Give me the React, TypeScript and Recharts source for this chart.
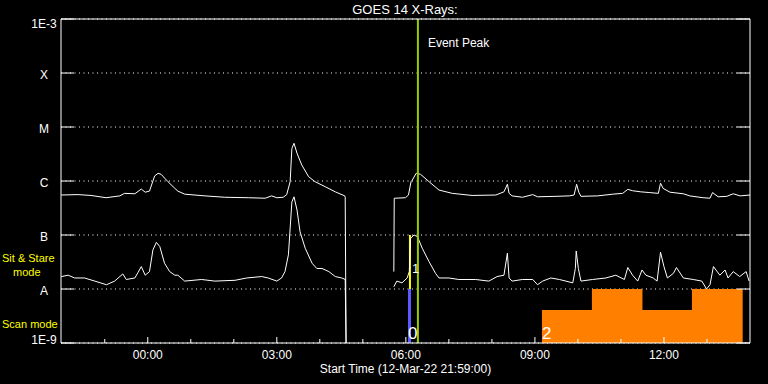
import {
  ComposedChart,
  Line,
  Area,
  XAxis,
  YAxis,
  CartesianGrid,
  ReferenceLine,
  ReferenceArea,
  ReferenceDot,
} from 'recharts';

const FONT = '"Liberation Sans", Arial, sans-serif';

// hours from 00:00 UT, start 12-Mar-22 21:59:00
const longTimes = [
  -2.01, -1.62, -1.32, -0.97, -0.65, -0.54, -0.3, -0.15, -0.06, 0.04, 0.16, 0.24, 0.31, 0.47, 0.63,
  0.7, 0.86, 1.33, 1.79, 2.34, 2.73, 2.88, 3.0, 3.15, 3.23, 3.31, 3.35, 3.4, 3.47, 3.58, 3.74, 3.89,
  4.13, 4.36, 4.58, 4.59, 4.61, 5.0, 5.72, 5.73, 5.75, 5.99, 6.06, 6.12, 6.15, 6.24, 6.34, 6.54,
  6.77, 7.08, 7.54, 8.09, 8.28, 8.36, 8.4, 8.47, 8.71, 8.95, 9.06, 9.49, 9.8, 9.91, 9.97, 10.02,
  10.07, 10.46, 10.81, 11.04, 11.16, 11.27, 11.46, 11.67, 11.87, 11.92, 11.98, 12.14, 12.45, 12.6,
  12.91, 13.07, 13.13, 13.26, 13.46, 13.61, 13.77, 14.0,
];
// GOES 1-8 A flux, W/m^2 (null = data gap)
const longFlux = [
  5.5e-7, 5.6e-7, 5.4e-7, 4.9e-7, 5.3e-7, 5.9e-7, 5.8e-7, 7.1e-7, 6.2e-7, 6.5e-7, 1.24e-6, 1.39e-6,
  1.33e-6, 9.7e-7, 7.3e-7, 6.5e-7, 5.7e-7, 5.3e-7, 5.0e-7, 4.9e-7, 4.8e-7, 5.3e-7, 4.9e-7, 5.0e-7,
  5.6e-7, 9.7e-7, 4.0e-6, 5.0e-6, 3.26e-6, 1.98e-6, 1.2e-6, 9.7e-7, 7.8e-7, 6.3e-7, 5.3e-7, 5.0e-7,
  1e-9, null, 2.1e-8, 4.8e-7, 4.8e-7, 4.9e-7, 5.5e-7, 9.7e-7, 1.04e-6, 1.39e-6, 1.33e-6, 9.7e-7,
  6.8e-7, 5.9e-7, 5.4e-7, 5.5e-7, 6.3e-7, 8.7e-7, 5.9e-7, 5.3e-7, 5.0e-7, 5.6e-7, 5.1e-7, 5.2e-7,
  5.3e-7, 5.5e-7, 8.7e-7, 6.2e-7, 5.2e-7, 5.3e-7, 5.7e-7, 5.9e-7, 7.0e-7, 6.6e-7, 6.3e-7, 6.1e-7,
  5.9e-7, 9.1e-7, 7.3e-7, 6.2e-7, 5.8e-7, 5.3e-7, 4.9e-7, 4.8e-7, 6.1e-7, 5.1e-7, 5.2e-7, 5.8e-7,
  5.3e-7, 5.5e-7,
];

const shortTimes = [
  -2.01, -1.85, -1.7, -1.47, -1.23, -0.96, -0.77, -0.58, -0.5, -0.3, -0.23, -0.15, -0.06, 0.04,
  0.12, 0.2, 0.28, 0.39, 0.51, 0.63, 0.7, 0.86, 1.25, 1.56, 2.03, 2.3, 2.65, 2.8, 3.0, 3.11, 3.19,
  3.27, 3.35, 3.4, 3.47, 3.54, 3.66, 3.82, 3.93, 4.05, 4.21, 4.36, 4.51, 4.59, 4.61, 5.0, 5.72,
  5.79, 5.91, 6.03, 6.08, 6.11, 6.19, 6.27, 6.38, 6.54, 6.69, 6.77, 7.0, 7.23, 7.62, 7.93, 8.12,
  8.28, 8.36, 8.4, 8.47, 8.71, 8.95, 9.06, 9.18, 9.37, 9.57, 9.88, 9.94, 9.96, 10.01, 10.07, 10.34,
  10.65, 10.88, 11.08, 11.16, 11.27, 11.39, 11.49, 11.58, 11.75, 11.84, 11.92, 12.0, 12.08, 12.22,
  12.29, 12.45, 12.68, 12.88, 12.99, 13.07, 13.15, 13.3, 13.42, 13.49, 13.61, 13.76, 13.91, 13.98,
];
// GOES 0.5-4 A flux, W/m^2
const shortFlux = [
  1.7e-8, 1.8e-8, 1.6e-8, 1.6e-8, 1.4e-8, 1.2e-8, 1.4e-8, 1.9e-8, 1.5e-8, 1.6e-8,
  2.0e-8, 2.6e-8, 1.8e-8, 2.1e-8, 5.3e-8, 7.3e-8, 6.1e-8, 3.0e-8, 2.1e-8, 1.8e-8,
  1.8e-8, 1.4e-8, 1.5e-8, 1.4e-8, 1.45e-8, 1.6e-8, 1.7e-8, 1.6e-8, 1.4e-8, 1.6e-8,
  2.1e-8, 4.3e-8, 4.1e-7, 5.1e-7, 2.9e-7, 1.15e-7, 5.7e-8, 3.0e-8, 2.4e-8, 2.4e-8,
  2.1e-8, 1.7e-8, 1.6e-8, 1.5e-8, 1e-9, null, 1.1e-8, 1.4e-8, 1.3e-8, 1.6e-8,
  2.1e-8, 8.7e-8, 1.0e-7, 9.3e-8, 5.7e-8, 3.2e-8, 1.95e-8, 1.6e-8, 1.6e-8, 1.5e-8,
  1.5e-8, 1.4e-8, 1.7e-8, 1.8e-8, 4.6e-8, 1.6e-8, 1.4e-8, 1.5e-8, 1.5e-8, 1.2e-8,
  1.4e-8, 1.6e-8, 1.5e-8, 1.3e-8, 2.4e-8, 5.05e-8, 2.4e-8, 1.4e-8, 1.5e-8, 1.6e-8,
  1.8e-8, 1.5e-8, 2.5e-8, 1.8e-8, 1.4e-8, 2.25e-8, 1.8e-8, 1.6e-8, 1.4e-8, 4.8e-8,
  2.6e-8, 1.6e-8, 1.95e-8, 2.5e-8, 1.6e-8, 1.5e-8, 1.4e-8, 1.0e-8, 1.2e-8, 2.6e-8,
  1.8e-8, 2.25e-8, 1.6e-8, 2.1e-8, 1.7e-8, 2.1e-8, 1.4e-8,
];

const fluxTicks = [1e-9, 1e-8, 1e-7, 1e-6, 1e-5, 1e-4, 1e-3];
const fluxLabels = ['1E-9', 'A', 'B', 'C', 'M', 'X', '1E-3'];
const hourTicks = [-1, 0, 1, 2, 3, 4, 5, 6, 7, 8, 9, 10, 11, 12, 13];

const peakTime = 6.28;

// observing modes (level on a hidden 0..6 scale)
const scanBlock = [6.05, 6.12];
const stareTime = 6.095;
const mode2Times = [9.163, 10.325, 11.5, 12.65, 13.83];
const mode2Levels = [0.61, 1, 0.61, 1, 1];
const modeLabelTimes = [6.05, 6.14, 9.163];
const modeLabelLevels = [0, 1.22, 0];
const modeLabelTexts = ['0', '1', '2'];
const modeLabelSizes = [17, 13, 17];

const longData = longTimes.map((t, i) => ({ t, v: longFlux[i] }));
const shortData = shortTimes.map((t, i) => ({ t, v: shortFlux[i] }));
const mode2Data = mode2Times.map((t, i) => ({ t, m: mode2Levels[i] }));

const labelFor = (v: number) => fluxLabels[Math.round(Math.log10(v)) + 9];
const hourLabel = (h: number) => `${String(h).padStart(2, '0')}:00`;

function LeftTick({ x, y, payload }: any) {
  const label = labelFor(payload.value);
  const dy = label === '1E-3' ? 8.5 : label === '1E-9' ? 1 : 5.5;
  return (
    <g>
      <line x1={x} x2={x + 13} y1={y} y2={y} stroke="#fff" />
      <text x={x - 17} y={y + dy} textAnchor="middle" fill="#fff" fontSize={12}>
        {label}
      </text>
    </g>
  );
}

function RightTick({ x, y }: any) {
  return <line x1={x - 13} x2={x} y1={y} y2={y} stroke="#fff" />;
}

function BottomTick({ x, y, payload }: any) {
  const major = payload.value % 3 === 0;
  return (
    <g>
      <line x1={x} x2={x} y1={y} y2={y - (major ? 6 : 4)} stroke="#fff" />
      {major && (
        <text x={x} y={y + 16} textAnchor="middle" fill="#fff" fontSize={12}>
          {hourLabel(payload.value)}
        </text>
      )}
    </g>
  );
}

function TopTick({ x, y, payload }: any) {
  const major = payload.value % 3 === 0;
  return <line x1={x} x2={x} y1={y} y2={y + (major ? 6 : 4)} stroke="#fff" />;
}

function PeakLabel({ viewBox }: any) {
  return (
    <text x={viewBox.x + 10} y={viewBox.y + 28} fill="#fff" fontSize={12}>
      Event Peak
    </text>
  );
}

function ModeText({ viewBox, text, size }: any) {
  return (
    <text x={viewBox.x} y={viewBox.y - 4} fill="#fff" fontSize={size}>
      {text}
    </text>
  );
}

export default function App() {
  return (
    <div
      style={{
        position: 'absolute',
        left: 0,
        top: 0,
        width: 768,
        height: 384,
        background: '#000',
        fontFamily: FONT,
      }}
    >
      <ComposedChart width={768} height={384} margin={{ top: 0, right: 0, bottom: 0, left: 0 }}>
        <CartesianGrid
          yAxisId="flux"
          vertical={false}
          stroke="#fff"
          strokeDasharray="1 3.5"
        />
        <XAxis
          dataKey="t"
          type="number"
          domain={[-2.0167, 14]}
          allowDataOverflow
          ticks={hourTicks}
          interval={0}
          height={41}
          stroke="#fff"
          tickLine={false}
          tickSize={0}
          tickMargin={0}
          tick={<BottomTick />}
          label={{
            value: 'Start Time (12-Mar-22 21:59:00)',
            position: 'insideBottom',
            offset: 11,
            fill: '#fff',
            fontSize: 12,
          }}
        />
        <XAxis
          xAxisId="top"
          orientation="top"
          type="number"
          domain={[-2.0167, 14]}
          allowDataOverflow
          ticks={hourTicks}
          interval={0}
          height={19}
          stroke="#fff"
          tickLine={false}
          tickSize={0}
          tickMargin={0}
          tick={<TopTick />}
        />
        <YAxis
          yAxisId="flux"
          scale="log"
          type="number"
          domain={[1e-9, 1e-3]}
          allowDataOverflow
          ticks={fluxTicks}
          interval={0}
          width={61}
          stroke="#fff"
          tickLine={false}
          tickSize={0}
          tickMargin={0}
          tick={<LeftTick />}
        />
        <YAxis
          yAxisId="fluxR"
          orientation="right"
          scale="log"
          type="number"
          domain={[1e-9, 1e-3]}
          allowDataOverflow
          ticks={fluxTicks}
          interval={0}
          width={18}
          stroke="#fff"
          tickLine={false}
          tickSize={0}
          tickMargin={0}
          tick={<RightTick />}
        />
        <YAxis yAxisId="mode" hide type="number" domain={[0, 6]} />

        <Area
          data={mode2Data}
          dataKey="m"
          yAxisId="mode"
          type="stepAfter"
          stroke="none"
          fill="#ff8000"
          fillOpacity={1}
          isAnimationActive={false}
        />
        <ReferenceArea
          yAxisId="mode"
          x1={scanBlock[0]}
          x2={scanBlock[1]}
          y1={0}
          y2={1}
          fill="#5a5aff"
          fillOpacity={1}
          stroke="none"
        />
        <ReferenceLine
          yAxisId="mode"
          segment={[
            { x: stareTime, y: 1 },
            { x: stareTime, y: 2 },
          ]}
          stroke="#ffff00"
          strokeWidth={2}
        />

        <Line
          data={longData}
          dataKey="v"
          yAxisId="flux"
          type="linear"
          stroke="#fff"
          strokeWidth={1}
          dot={false}
          isAnimationActive={false}
        />
        <Line
          data={shortData}
          dataKey="v"
          yAxisId="flux"
          type="linear"
          stroke="#fff"
          strokeWidth={1}
          dot={false}
          isAnimationActive={false}
        />

        <ReferenceLine
          yAxisId="flux"
          x={peakTime}
          stroke="#99cc00"
          strokeWidth={2}
          label={<PeakLabel />}
        />
        {modeLabelTexts.map((text, i) => (
          <ReferenceDot
            key={text}
            yAxisId="mode"
            x={modeLabelTimes[i]}
            y={modeLabelLevels[i]}
            r={0}
            fill="none"
            stroke="none"
            label={<ModeText text={text} size={modeLabelSizes[i]} />}
          />
        ))}
      </ComposedChart>
      <svg
        width={768}
        height={384}
        style={{ position: 'absolute', left: 0, top: 0, pointerEvents: 'none' }}
      >
        <text x={405} y={14} textAnchor="middle" fill="#fff" fontSize={13} fontFamily={FONT}>
          GOES 14 X-Rays:
        </text>
        <text x={2} y={262} fill="#ffff00" fontSize={11} fontFamily={FONT}>
          Sit &amp; Stare
        </text>
        <text x={13} y={276} fill="#ffff00" fontSize={11} fontFamily={FONT}>
          mode
        </text>
        <text x={2} y={328} fill="#ffff00" fontSize={11} fontFamily={FONT}>
          Scan mode
        </text>
      </svg>
    </div>
  );
}
